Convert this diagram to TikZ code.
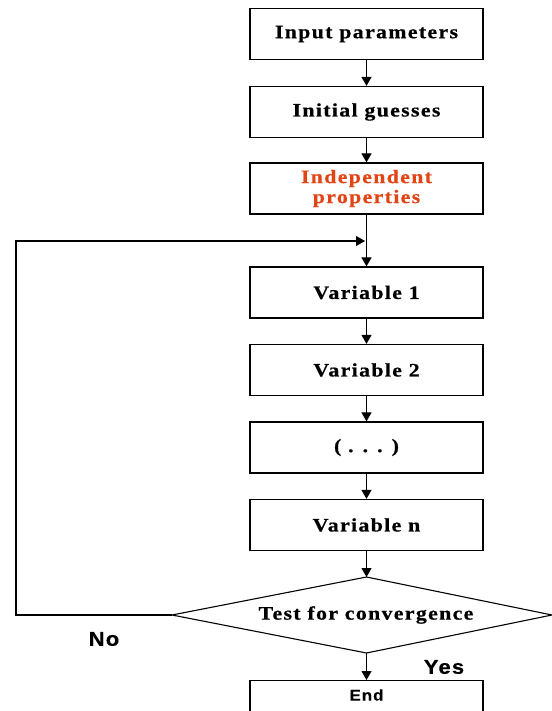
\documentclass[tikz,border=0pt]{standalone}
\usepackage{fontspec}
\setmainfont{Liberation Serif}
\newfontfamily\boxfont{Liberation Serif}[LetterSpace=7, FakeStretch=1.15, FakeBold=0.6]
\newfontfamily\lblfont{Liberation Sans}[LetterSpace=6, FakeStretch=1.1, FakeBold=0.4]
\usetikzlibrary{arrows.meta}
\definecolor{indep}{RGB}{226,68,20}
\begin{document}
\begin{tikzpicture}[x=1pt,y=-1pt, line width=1.1pt,
  box/.style={draw, line width=1.2pt, minimum width=233pt, minimum height=51pt, inner sep=0pt,
    font=\boxfont\bfseries\fontsize{19}{20}\selectfont, align=center},
  arr/.style={-{Triangle[width=10pt,length=9pt]}},
  lbl/.style={font=\lblfont\bfseries\fontsize{20}{22}\selectfont}]
\useasboundingbox (0,0) rectangle (551,711);
\node[box] (b1) at (366.5,34) {Input parameters};
\node[box] (b2) at (366.5,112) {Initial guesses};
\node[box, text=indep] (b3) at (366.5,188.5) {Independent\\properties};
\coordinate (merge) at (366.5,241);
\node[box] (v1) at (366.5,292.5) {Variable 1};
\node[box] (v2) at (366.5,370) {Variable 2};
\node[box] (vd) at (366.5,447.5) {( . . . )};
\node[box] (vn) at (366.5,525) {Variable n};
\coordinate (dt) at (366.5,577);
\coordinate (dl) at (172,615);
\coordinate (dr) at (552,615);
\coordinate (db) at (366.5,653);
\draw (dl) -- (dt) -- (dr) -- (db) -- cycle;
\node[font=\boxfont\bfseries\fontsize{19}{20}\selectfont] (test) at (366,615) {Test for convergence};
\node[draw, line width=1.2pt, minimum width=233pt, minimum height=50pt, inner sep=0pt, anchor=north] (endbox) at (366.5,680) {};
\node[font=\lblfont\bfseries\fontsize{15.5}{17}\selectfont] (endtxt) at (366.5,695) {End};
\node[lbl] (no) at (104,639) {No};
\node[lbl] (yes) at (444,667) {Yes};
\coordinate (lb) at (16,615);
\coordinate (lt) at (16,241);
\draw[arr] (b1) -- (b2);
\draw[arr] (b2) -- (b3);
\draw (b3.south) -- (merge);
\draw[arr] (merge) -- (v1);
\draw[arr] (v1) -- (v2);
\draw[arr] (v2) -- (vd);
\draw[arr] (vd) -- (vn);
\draw[arr] (vn) -- (dt);
\draw[arr] (db) -- (endbox.north);
\draw[arr, shorten >=1.5pt] (dl) -- (lb) -- (lt) -- (merge);
\end{tikzpicture}
\end{document}
